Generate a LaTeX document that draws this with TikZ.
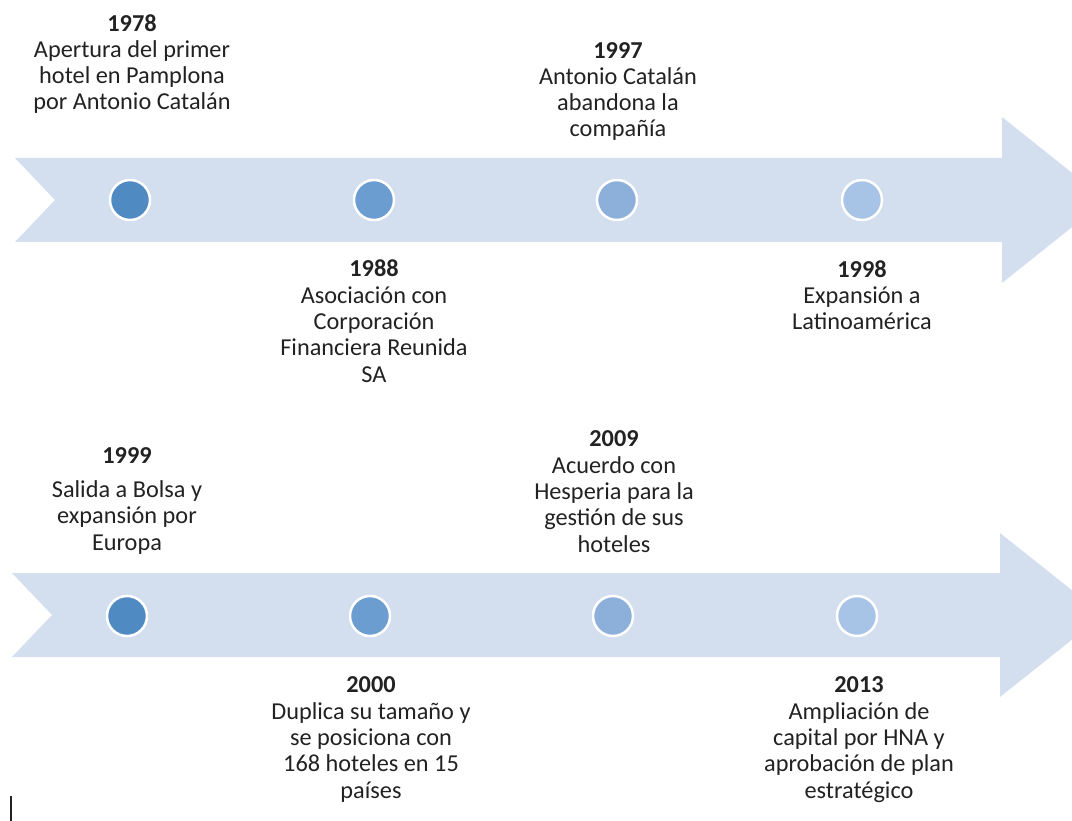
\documentclass[tikz,border=0pt]{standalone}
\usepackage{fontspec}
\setmainfont{Carlito}
\definecolor{band}{HTML}{D3DEEF}
\definecolor{dotA}{HTML}{508AC2}
\definecolor{dotB}{HTML}{6B9DD0}
\definecolor{dotC}{HTML}{8DB0DB}
\definecolor{dotD}{HTML}{A7C3E5}
\definecolor{txt}{HTML}{222222}
\tikzset{
  band/.style={fill=band, draw=none},
  dot/.style={circle, minimum size=40pt, inner sep=0pt, draw=white, line width=2.5pt},
  label/.style={align=center, anchor=base, inner sep=0pt, text=txt,
    font=\fontsize{24.3}{26.3}\selectfont},
}
\begin{document}
\begin{tikzpicture}[x=1pt,y=-1pt]
\useasboundingbox (0,0) rectangle (1072,821);
\clip (0,0) rectangle (1072,821);
% top band
\fill[band] (15,158) -- (1002,158) -- (1002,117) -- (1106,200) -- (1002,283)
  -- (1002,242) -- (15,242) -- (55,200) -- cycle;
% bottom band
\fill[band] (12,573) -- (1000,573) -- (1000,533) -- (1103,615) -- (1000,697)
  -- (1000,657) -- (12,657) -- (52,615) -- cycle;
% dots
\node[dot, fill=dotA] (c11) at (130,200) {};
\node[dot, fill=dotB] (c12) at (374,200) {};
\node[dot, fill=dotC] (c13) at (617,200) {};
\node[dot, fill=dotD] (c14) at (862,200) {};
\node[dot, fill=dotA] (c21) at (127,616) {};
\node[dot, fill=dotB] (c22) at (370,616) {};
\node[dot, fill=dotC] (c23) at (613,616) {};
\node[dot, fill=dotD] (c24) at (857,616) {};
% labels (anchor = baseline of the last line)
\node[label] (t1978) at (132,110) {\textbf{1978}\\Apertura del primer\\hotel en Pamplona\\por Antonio Catalán};
\node[label] (t1997) at (618,137) {\textbf{1997}\\Antonio Catalán\\abandona la\\compañía};
\node[label] (t1988) at (374,382) {\textbf{1988}\\Asociación con\\Corporación\\Financiera Reunida\\SA};
\node[label] (t1998) at (862,330) {\textbf{1998}\\Expansión a\\Latinoamérica};
\node[label] (t1999) at (127,550) {\textbf{1999}\\[8pt]Salida a Bolsa y\\expansión por\\Europa};
\node[label] (t2009) at (614,552) {\textbf{2009}\\Acuerdo con\\Hesperia para la\\gestión de sus\\hoteles};
\node[label] (t2000) at (371,798) {\textbf{2000}\\Duplica su tamaño y\\se posiciona con\\168 hoteles en 15\\países};
\node[label] (t2013) at (859,798) {\textbf{2013}\\Ampliación de\\capital por HNA y\\aprobación de plan\\estratégico};
% cursor mark
\coordinate (m1) at (11,796);
\coordinate (m2) at (11,821);
\draw[line width=1.5pt, color=txt] (m1) -- (m2);
\end{tikzpicture}
\end{document}
